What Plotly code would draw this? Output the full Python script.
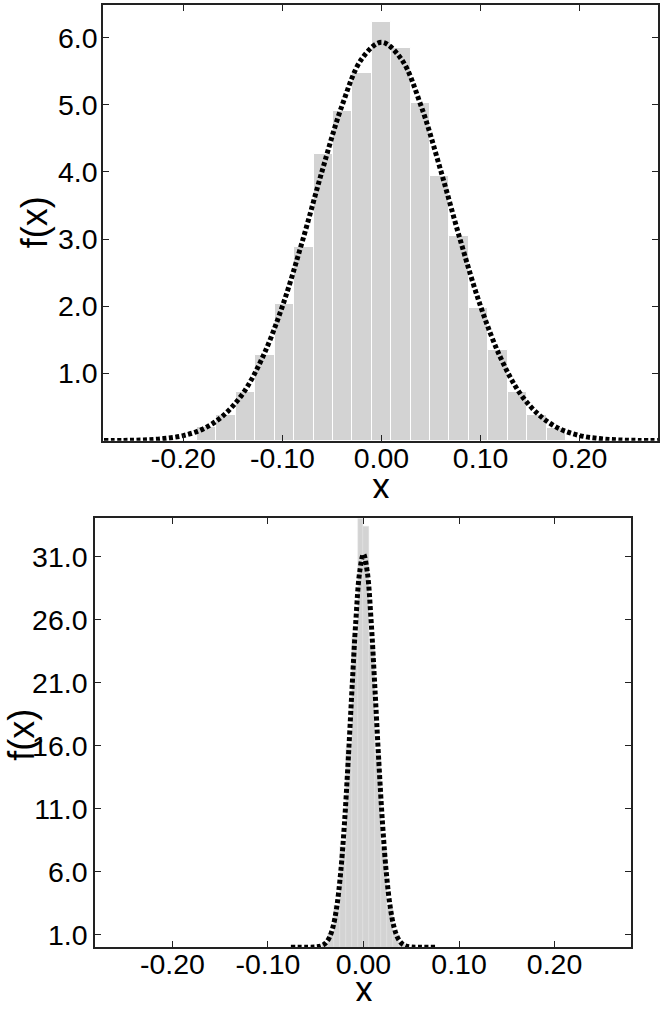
import plotly.graph_objects as go
from plotly.subplots import make_subplots

# ---- data ----
# top panel: histogram (bin centres, bin heights) and fitted density curve
top_bin_x = [-0.1764, -0.1568, -0.1372, -0.1176, -0.0980, -0.0784, -0.0588, -0.0392, -0.0196, 0.0,
             0.0196, 0.0392, 0.0588, 0.0784, 0.0980, 0.1176, 0.1372, 0.1568, 0.1764]
top_bin_y = [0.20, 0.39, 0.72, 1.27, 2.03, 2.88, 4.27, 4.90, 5.47, 6.23,
             5.84, 5.02, 3.94, 3.05, 1.98, 1.35, 0.73, 0.38, 0.19]
top_curve_x = [-0.28, -0.26, -0.24, -0.22, -0.20, -0.18, -0.16, -0.14, -0.12, -0.10, -0.08, -0.06, -0.04, -0.02, 0.0,
               0.02, 0.04, 0.06, 0.08, 0.10, 0.12, 0.14, 0.16, 0.18, 0.20, 0.22, 0.24, 0.26, 0.28]
top_curve_y = [0.001, 0.004, 0.011, 0.031, 0.076, 0.175, 0.37, 0.70, 1.24, 2.00, 2.96, 4.01, 4.98, 5.68, 5.93,
               5.68, 4.98, 4.01, 2.96, 2.00, 1.24, 0.70, 0.37, 0.175, 0.076, 0.031, 0.011, 0.004, 0.001]

# bottom panel
bot_bin_x = [-0.0403, -0.0341, -0.0279, -0.0217, -0.0155, -0.0093, -0.0031,
             0.0031, 0.0093, 0.0155, 0.0217, 0.0279, 0.0341, 0.0403]
bot_bin_y = [0.30, 1.10, 3.30, 8.00, 15.8, 24.6, 35.5,
             33.4, 24.0, 15.3, 7.8, 3.1, 1.0, 0.28]
bot_curve_x = [-0.076, -0.060, -0.050, -0.044, -0.040, -0.036, -0.032, -0.028, -0.024, -0.020, -0.016, -0.012, -0.008, -0.004, 0.0,
               0.004, 0.008, 0.012, 0.016, 0.020, 0.024, 0.028, 0.032, 0.036, 0.040, 0.044, 0.050, 0.060, 0.076]
bot_curve_y = [0.0, 0.0003, 0.021, 0.11, 0.295, 0.715, 1.58, 3.18, 5.82, 9.73, 14.8, 20.51, 25.89, 29.78, 31.2,
               29.78, 25.89, 20.51, 14.8, 9.73, 5.82, 3.18, 1.58, 0.715, 0.295, 0.11, 0.021, 0.0003, 0.0]

x_ticks = [-0.2, -0.1, 0.0, 0.1, 0.2]
x_tick_labels = ["-0.20", "-0.10", "0.00", "0.10", "0.20"]
top_y_ticks = [1.0, 2.0, 3.0, 4.0, 5.0, 6.0]
bot_y_ticks = [1.0, 6.0, 11.0, 16.0, 21.0, 26.0, 31.0]

W, H = 664, 1009
FONT = "Liberation Sans, Arial, Helvetica, sans-serif"


def fx(px):
    return px / W


def fy(py):
    return 1 - py / H


fig = make_subplots(rows=2, cols=1)

dots = dict(color="black", width=5, dash="4px,2.5px", shape="spline")
fig.add_trace(go.Bar(x=top_bin_x, y=top_bin_y, width=0.0196,
                     marker=dict(color="#d3d3d3", line=dict(color="white", width=1))), row=1, col=1)
fig.add_trace(go.Scatter(x=top_curve_x, y=top_curve_y, mode="lines", line=dots), row=1, col=1)
fig.add_trace(go.Bar(x=bot_bin_x, y=bot_bin_y, width=0.0062,
                     marker=dict(color="#d3d3d3", line=dict(color="#e4e4e4", width=0.4))), row=2, col=1)
fig.add_trace(go.Scatter(x=bot_curve_x, y=bot_curve_y, mode="lines", line=dots), row=2, col=1)

axis_style = dict(showgrid=False, zeroline=False, showline=True, linecolor="#222", linewidth=1.5,
                  mirror="ticks", ticks="inside", ticklen=6, tickwidth=1, tickcolor="#222",
                  tickfont=dict(family=FONT, size=28.5, color="black"))

fig.update_xaxes(axis_style)
fig.update_yaxes(axis_style)

fig.update_layout(
    xaxis=dict(domain=[fx(103), fx(658)], range=[-0.281, 0.279],
               tickvals=x_ticks, ticktext=x_tick_labels, ticklabelstandoff=-9),
    yaxis=dict(domain=[fy(442), fy(5)], range=[0, 6.485], tickvals=top_y_ticks, tickformat=".1f",
               ticklabelstandoff=-2),
    xaxis2=dict(domain=[fx(95), fx(631)], range=[-0.281, 0.280],
                tickvals=x_ticks, ticktext=x_tick_labels, ticklabelstandoff=-9),
    yaxis2=dict(domain=[fy(950), fy(520)], range=[0, 34.03], tickvals=bot_y_ticks, tickformat=".1f"),
    width=W, height=H,
    margin=dict(l=0, r=0, t=0, b=0),
    plot_bgcolor="white", paper_bgcolor="white",
    showlegend=False, bargap=0,
)

title_font = dict(family=FONT, size=36, color="black")
# y titles (rotated) and x titles; the x titles get a tight box so they sit just under the tick labels
for text, x, y, angle, box_h in [("f(x)", 34, 223, -90, None), ("x", 381, 487.5, 0, 24),
                                 ("f(x)", 22, 737, -90, None), ("x", 363.5, 992, 0, 24)]:
    fig.add_annotation(text=text, x=fx(x), y=fy(y), xref="paper", yref="paper",
                       showarrow=False, textangle=angle, font=title_font, height=box_h,
                       valign="middle", xanchor="center", yanchor="middle")

fig.write_html("out.html", config={"displayModeBar": False},
               post_script="document.body.style.margin='0';")
